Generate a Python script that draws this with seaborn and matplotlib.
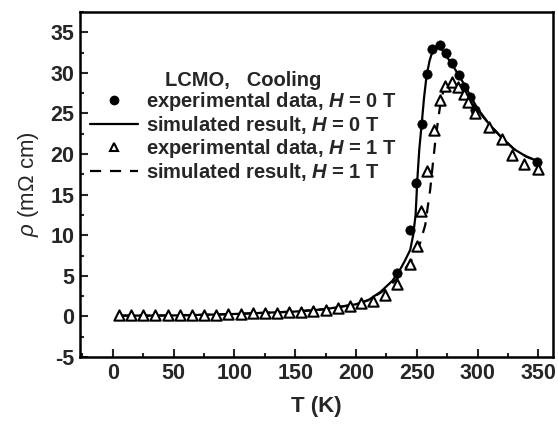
import pandas as pd
import matplotlib.pyplot as plt
import seaborn as sns
from matplotlib.lines import Line2D
from matplotlib.ticker import MultipleLocator

# experimental data, H = 0 T (filled circles)
t_exp0 = [234, 244, 249, 254, 258.5, 262.5, 268.8, 274.3, 279, 284.5, 288.6, 294, 298, 349]
rho_exp0 = [5.4, 10.7, 16.4, 23.7, 29.9, 33.0, 33.4, 32.4, 31.2, 29.8, 28.3, 27.0, 25.4, 19.0]

# experimental data, H = 1 T (open triangles)
t_exp1 = [5, 15, 25, 35, 45, 55, 65, 75, 85, 95, 105, 115, 125, 135, 145, 155, 165, 175,
          185, 195, 204, 214, 224, 234, 244.6, 250, 253.7, 258.4, 263.8, 269.4, 273.5, 279,
          284, 288.6, 292, 298.2, 309, 320, 328, 338, 349.5]
rho_exp1 = [0.15, 0.15, 0.15, 0.15, 0.15, 0.15, 0.18, 0.2, 0.22, 0.25, 0.3, 0.4, 0.4, 0.45,
            0.5, 0.6, 0.7, 0.85, 1.0, 1.3, 1.6, 1.95, 2.7, 4.0, 6.4, 8.7, 13.0, 17.9, 23.0,
            26.6, 28.4, 28.85, 28.2, 27.4, 26.4, 25.1, 23.3, 21.8, 19.9, 18.8, 18.2]

# simulated result, H = 0 T (solid)
t_sim0 = [5, 25, 50, 75, 100, 125, 150, 175, 200, 210, 220, 230, 236, 240, 244.6, 247, 249,
          250.5, 252, 254, 256, 258, 260.5, 263, 266, 269, 272, 276, 280, 285, 290, 295,
          300, 310, 320, 330, 340, 350]
rho_sim0 = [0.1, 0.1, 0.12, 0.2, 0.3, 0.45, 0.6, 0.9, 1.5, 2.0, 3.0, 4.4, 5.7, 6.8, 8.2,
            10.0, 12.5, 17.0, 20.5, 23.7, 27.0, 29.6, 31.5, 32.7, 33.2, 33.1, 32.6, 31.7,
            30.8, 29.6, 28.3, 26.9, 25.6, 23.6, 22.0, 20.6, 19.7, 19.1]

# simulated result, H = 1 T (dashed)
t_sim1 = [5, 25, 50, 75, 100, 125, 150, 175, 200, 210, 220, 230, 236, 240, 245, 250, 253,
          257, 259, 261, 263, 265, 267.7, 270, 273, 276, 280, 285, 290, 295, 300, 310, 320,
          330, 340, 350]
rho_sim1 = [0.1, 0.1, 0.12, 0.2, 0.3, 0.45, 0.6, 0.9, 1.5, 2.0, 2.9, 4.1, 5.0, 5.8, 6.8,
            7.8, 9.2, 11.3, 13.5, 15.6, 18.5, 21.3, 24.4, 26.8, 28.3, 28.9, 28.8, 28.0,
            27.2, 26.3, 25.4, 23.6, 22.0, 20.6, 19.7, 19.1]

sns.set_theme(style="ticks")
plt.rcParams["font.family"] = ["Liberation Sans", "DejaVu Sans"]
plt.rcParams["font.weight"] = "bold"
plt.rcParams["axes.unicode_minus"] = False
plt.rcParams["mathtext.fontset"] = "custom"
plt.rcParams["mathtext.rm"] = "Liberation Sans:weight=normal"
plt.rcParams["mathtext.it"] = "Liberation Sans:style=italic:weight=normal"
plt.rcParams["mathtext.bf"] = "Liberation Sans:weight=bold"
plt.rcParams["mathtext.bfit"] = "Liberation Sans:style=italic:weight=bold"

fig, ax = plt.subplots(figsize=(5.58, 4.24), dpi=100)
fig.subplots_adjust(left=0.1434, right=0.991, bottom=0.158, top=0.9717)

sim0 = pd.DataFrame({"T": t_sim0, "rho": rho_sim0})
sim1 = pd.DataFrame({"T": t_sim1, "rho": rho_sim1})
exp0 = pd.DataFrame({"T": t_exp0, "rho": rho_exp0})
exp1 = pd.DataFrame({"T": t_exp1, "rho": rho_exp1})

sns.lineplot(data=sim0, x="T", y="rho", color="black", lw=1.6, sort=False,
             estimator=None, ax=ax, zorder=2)
sns.lineplot(data=sim1, x="T", y="rho", color="black", lw=1.6, sort=False,
             estimator=None, ax=ax, zorder=2, linestyle=(0, (5, 4)))
sns.scatterplot(data=exp0, x="T", y="rho", marker="o", s=45, color="black",
                edgecolor="black", linewidth=0.5, ax=ax, zorder=3)
sns.scatterplot(data=exp1, x="T", y="rho", marker="^", s=55, facecolor="white",
                edgecolor="black", linewidth=1.5, ax=ax, zorder=4)

ax.set_xlim(-27, 362)
ax.set_ylim(-5, 37.5)
ax.xaxis.set_major_locator(MultipleLocator(50))
ax.xaxis.set_minor_locator(MultipleLocator(25))
ax.yaxis.set_major_locator(MultipleLocator(5))
ax.yaxis.set_minor_locator(MultipleLocator(2.5))
ax.tick_params(which="both", direction="in", top=False, right=False,
               labelsize=15.5, width=1.5, pad=4)
ax.tick_params(which="major", length=6)
ax.tick_params(which="minor", length=3)
for sp in ax.spines.values():
    sp.set_linewidth(1.8)
    sp.set_color("black")

ax.set_xlabel("T (K)", fontsize=16, fontweight="bold", labelpad=9)
ax.set_ylabel(r"$\rho$ (mΩ cm)", fontsize=16, fontweight="normal", labelpad=7)

handles = [
    Line2D([], [], marker="o", color="black", ls="none", markersize=6),
    Line2D([], [], color="black", lw=1.6),
    Line2D([], [], marker="^", color="black", mfc="white", mew=1.5, ls="none", markersize=6),
    Line2D([], [], color="black", lw=1.6, linestyle=(0, (5, 4))),
]
labels = [
    r"experimental data, $\mathbfit{H}$ = 0 T",
    r"simulated result, $\mathbfit{H}$ = 0 T",
    r"experimental data, $\mathbfit{H}$ = 1 T",
    r"simulated result, $\mathbfit{H}$ = 1 T",
]
leg = ax.legend(handles, labels, loc="upper left", bbox_to_anchor=(0.021, 0.83),
                frameon=False, fontsize=14.5, title="LCMO,   Cooling", title_fontsize=14.5,
                handlelength=2.4, handletextpad=0.4, labelspacing=0.04, borderpad=0,
                borderaxespad=0)
leg.get_title().set_fontweight("bold")

plt.savefig("out.png", dpi=100)
